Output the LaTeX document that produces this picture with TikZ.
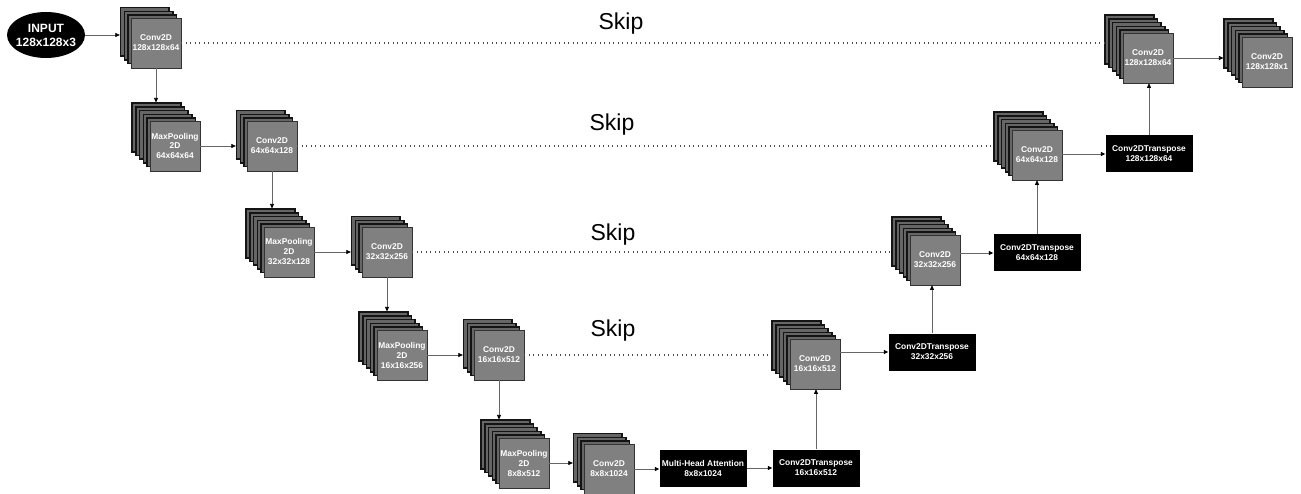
\documentclass[tikz,border=0pt]{standalone}
\usepackage{fontspec}
\setmainfont{Liberation Sans}
\usepackage{tikz}
\usetikzlibrary{arrows.meta,shapes.geometric}
\tikzset{front square/.style={draw=black!80,line width=0.6pt,fill=black!50,text=white,minimum size=50pt,inner sep=0pt,align=center,font=\bfseries\fontsize{8.4}{10}\selectfont},back layer/.style={draw=black!92,line width=1.6pt,fill=black!60,minimum size=48.5pt,inner sep=0pt},black box/.style={fill=black,text=white,minimum width=87pt,minimum height=37pt,inner sep=0pt,align=center,font=\bfseries\fontsize{8.4}{10}\selectfont},flow arrow/.style={draw=black!60,line width=0.7pt,-{Triangle[length=4.5pt,width=4pt,black]}},skip line/.style={draw=black!70,line width=1.1pt,dash pattern=on 1pt off 3.5pt},skip label/.style={font=\fontsize{23}{26}\selectfont}}
\newcommand{\layerstack}[5]{%
	\foreach \k in {#4,...,1}
		\node[back layer] (#1-\k) at ({#2-\k*\lstep},{#3-\k*\lstep}) {};
	\node[front square] (#1) at (#2,#3) {#5};}

\begin{document}
\begin{tikzpicture}[x=1pt,y=-1pt]
			\useasboundingbox (0,0) rectangle (1301,494);
			\def\lstep{3.7}
			\node[ellipse,fill=black,text=white,minimum width=78pt,minimum height=46pt,inner xsep=-5pt,inner ysep=0pt,align=center,font=\bfseries\fontsize{12}{14}\selectfont] (inp) at (46,35) {INPUT\\128x128x3};
			\layerstack{E1}{156}{43}{3}{Conv2D\\128x128x64}
			\layerstack{P1}{175}{146}{5}{MaxPooling\\2D\\64x64x64}
			\layerstack{E2}{272}{146}{3}{Conv2D\\64x64x128}
			\layerstack{P2}{289}{252}{5}{MaxPooling\\2D\\32x32x128}
			\layerstack{E3}{387}{252}{3}{Conv2D\\32x32x256}
			\layerstack{P3}{402}{355}{5}{MaxPooling\\2D\\16x16x256}
			\layerstack{E4}{499}{355}{3}{Conv2D\\16x16x512}
			\layerstack{P4}{524}{463}{5}{MaxPooling\\2D\\8x8x512}
			\layerstack{E5}{609}{469}{3}{Conv2D\\8x8x1024}
			\node[black box] (mha) at (703,468) {Multi-Head Attention\\8x8x1024};
			\node[black box] (T1) at (816,468) {Conv2DTranspose\\16x16x512};
			\layerstack{D4}{815}{364}{5}{Conv2D\\16x16x512}
			\node[black box] (T2) at (932,352) {Conv2DTranspose\\32x32x256};
			\layerstack{D3}{935}{260}{5}{Conv2D\\32x32x256}
			\node[black box] (T3) at (1037,253) {Conv2DTranspose\\64x64x128};
			\layerstack{D2}{1037}{155}{5}{Conv2D\\64x64x128}
			\node[black box] (T4) at (1149,154) {Conv2DTranspose\\128x128x64};
			\layerstack{D1}{1148}{58}{5}{Conv2D\\128x128x64}
			\layerstack{out}{1267}{62}{5}{Conv2D\\128x128x1}
			\draw[flow arrow] (inp.east) -- (inp.east -| E1-3.west);
			\draw[flow arrow] (E1.south) -- (E1.south |- P1-5.north);
			\draw[flow arrow] (P1.east) -- (P1.east -| E2-3.west);
			\draw[flow arrow] (E2.south) -- (E2.south |- P2-5.north);
			\draw[flow arrow] (P2.east) -- (P2.east -| E3-3.west);
			\draw[flow arrow] (E3.south) -- (E3.south |- P3-5.north);
			\draw[flow arrow] (P3.east) -- (P3.east -| E4-3.west);
			\draw[flow arrow] (E4.south) -- (E4.south |- P4-5.north);
			\draw[flow arrow] (P4.east) -- (P4.east -| E5-3.west);
			\draw[flow arrow] (E5.east) -- (E5.east -| mha.west);
			\draw[flow arrow] (mha) -- (T1);
			\draw[flow arrow] (T1.north) -- (T1.north |- D4.south);
			\draw[flow arrow] (T2.west -| D4.east) -- (T2.west);
			\draw[flow arrow] (T2.north) -- (T2.north |- D3.south);
			\draw[flow arrow] (T3.west -| D3.east) -- (T3.west);
			\draw[flow arrow] (T3.north) -- (T3.north |- D2.south);
			\draw[flow arrow] (T4.west -| D2.east) -- (T4.west);
			\draw[flow arrow] (T4.north) -- (T4.north |- D1.south);
			\draw[flow arrow] (D1.east) -- (D1.east -| out-5.west);
			\draw[skip line] (E1.east) -- (E1.east -| D1-5.west);
			\draw[skip line] (E2.east) -- (E2.east -| D2-5.west);
			\draw[skip line] (E3.east) -- (E3.east -| D3-5.west);
			\draw[skip line] (E4.east) -- (E4.east -| D4-5.west);
			\node[skip label] (s1) at (621,24) {Skip};
			\node[skip label] (s2) at (612,125) {Skip};
			\node[skip label] (s3) at (613,235) {Skip};
			\node[skip label] (s4) at (613,331) {Skip};
		\end{tikzpicture}
\end{document}
